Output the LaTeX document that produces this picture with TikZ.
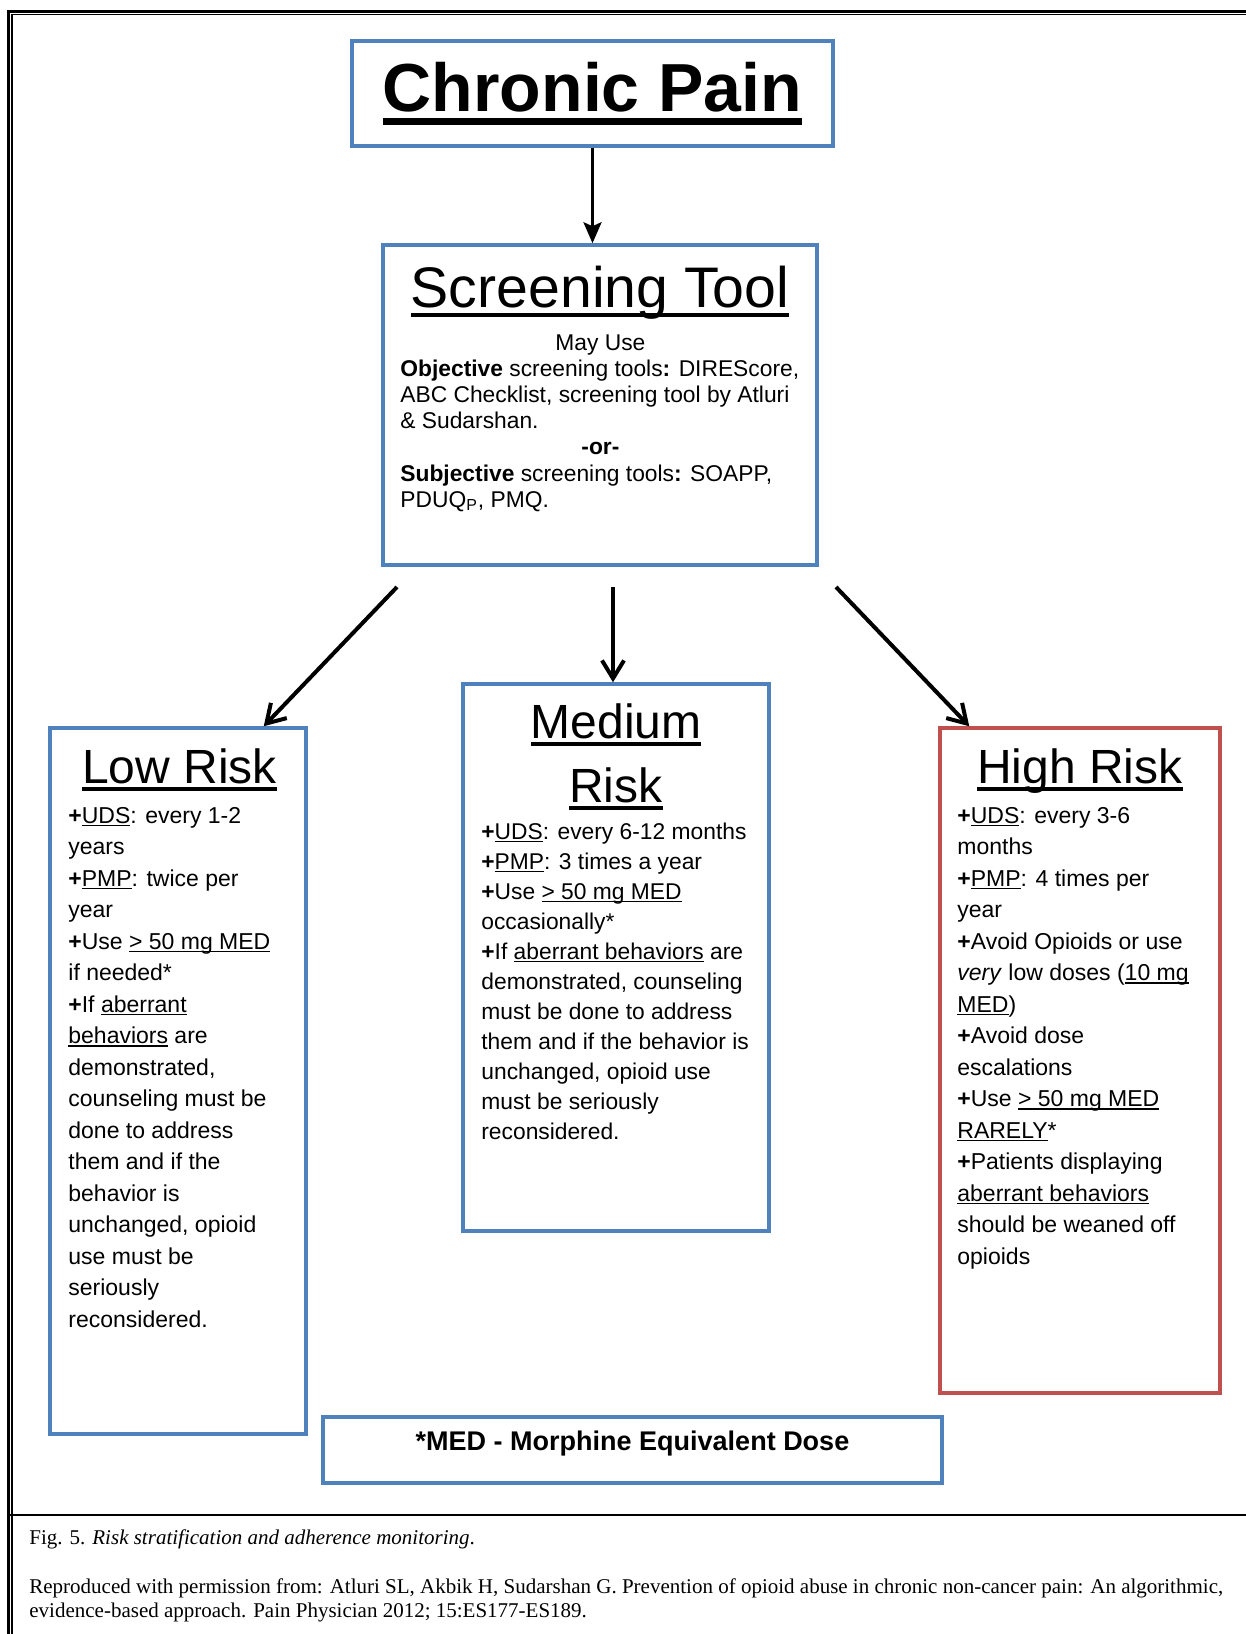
\documentclass[tikz,border=0pt]{standalone}
\usepackage{fontspec}
\setmainfont{Liberation Sans}
\newfontfamily\capfont{Liberation Serif}
\usetikzlibrary{arrows.meta,positioning}

\definecolor{boxblue}{RGB}{79,129,189}
\definecolor{boxred}{RGB}{192,80,77}

% underline: depth below baseline, rule thickness, text
\newcommand{\undl}[3]{\leavevmode\setbox0\hbox{#3}\rlap{\vrule height -#1 depth \dimexpr#1+#2\relax width \wd0}\box0\relax}
\newcommand{\txu}[1]{\undl{0.8pt}{0.9pt}{#1}}
\newcommand{\pls}{\textbf{+}}

\begin{document}
\begin{tikzpicture}[x=0.5pt, y=-0.5pt,
  bluebox/.style={draw=boxblue, line width=1.75pt, inner sep=0pt},
  redbox/.style={draw=boxred, line width=1.75pt, inner sep=0pt},
  risktitle/.style={inner sep=0pt, anchor=base, font=\fontsize{24}{32}\selectfont},
  bodytxt/.style={inner sep=0pt, anchor=base west, font=\fontsize{11.5}{15.75}\selectfont},
  captxt/.style={inner sep=0pt, anchor=base west, font=\capfont\fontsize{10.5}{12}\selectfont},
  thinarrow/.style={line width=1.5pt, -{Stealth[length=10.5pt,width=9pt,inset=2pt]}},
  thickarrow/.style={line width=2pt, -{Straight Barb[length=9pt,width=11pt]}}]

\useasboundingbox (0,0) rectangle (1246,1634);

% page frame
\draw[line width=1.5pt] (1246,11) -- (8.5,11) -- (8.5,1634);
\draw[line width=0.6pt] (1246,14.5) -- (12,14.5) -- (12,1634);
\draw[line width=1pt] (8.5,1514.5) -- (1246,1514.5);

% top
\node[bluebox, minimum width=240.5pt, minimum height=52.5pt,
  font=\bfseries\fontsize{34}{40}\selectfont] (chronic) at (592.5,93.5) {\undl{3.5pt}{3.5pt}{Chronic Pain}};

\node[bluebox, minimum width=217pt, minimum height=160pt] (scr) at (600,405) {};
\node[inner sep=0pt, anchor=base, font=\fontsize{28.6}{32}\selectfont] (scrtitle) at (600,307)
  {\undl{3pt}{2pt}{Screening Tool}};
\node[inner sep=0pt, anchor=base west, font=\fontsize{11.4}{13.1}\selectfont] (scrtxt) at (400,350)
  {\parbox[t]{200pt}{\raggedright
  \makebox[200pt]{May Use}\\
  \textbf{Objective} screening tools\textbf{:} DIREScore,\\
  ABC Checklist, screening tool by Atluri\\
  \& Sudarshan.\\
  \makebox[200pt]{\textbf{-or-}}\\
  \textbf{Subjective} screening tools\textbf{:} SOAPP,\\
  PDUQ\textsubscript{P}, PMQ.}};

% low risk
\node[bluebox, minimum width=128pt, minimum height=353pt] (low) at (178,1081) {};
\node[risktitle] (lowtitle) at (179.5,783) {\undl{2pt}{1.8pt}{Low Risk}};
\node[bodytxt] (lowtxt) at (68,823) {\parbox[t]{150pt}{\raggedright
  \pls\txu{UDS}: every 1-2\\
  years\\
  \pls\txu{PMP}: twice per\\
  year\\
  \pls Use \txu{> 50 mg MED}\\
  if needed*\\
  \pls If \txu{aberrant}\\
  \txu{behaviors} are\\
  demonstrated,\\
  counseling must be\\
  done to address\\
  them and if the\\
  behavior is\\
  unchanged, opioid\\
  use must be\\
  seriously\\
  reconsidered.}};

% medium risk
\node[bluebox, minimum width=153pt, minimum height=273.5pt] (med) at (616,957.5) {};
\node[risktitle] (medtitle) at (616,738) {\parbox[t]{150pt}{\centering
  \undl{2pt}{1.8pt}{Medium}\\ \undl{2pt}{1.8pt}{Risk}}};
\node[bodytxt, font=\fontsize{11.4}{15}\selectfont] (medtxt) at (481,839) {\parbox[t]{150pt}{\raggedright
  \pls\txu{UDS}: every 6-12 months\\
  \pls\txu{PMP}: 3 times a year\\
  \pls Use \txu{> 50 mg MED}\\
  occasionally*\\
  \pls If \txu{aberrant behaviors} are\\
  demonstrated, counseling\\
  must be done to address\\
  them and if the behavior is\\
  unchanged, opioid use\\
  must be seriously\\
  reconsidered.}};

% high risk
\node[redbox, minimum width=140pt, minimum height=332.5pt] (high) at (1080,1060.5) {};
\node[risktitle] (hightitle) at (1080,783) {\undl{2pt}{1.8pt}{High Risk}};
\node[bodytxt] (hightxt) at (957,823) {\parbox[t]{150pt}{\raggedright
  \pls\txu{UDS}: every 3-6\\
  months\\
  \pls\txu{PMP}: 4 times per\\
  year\\
  \pls Avoid Opioids or use\\
  \textit{very} low doses (\txu{10 mg}\\
  \txu{MED})\\
  \pls Avoid dose\\
  escalations\\
  \pls Use \txu{> 50 mg MED}\\
  \txu{RARELY}*\\
  \pls Patients displaying\\
  \txu{aberrant behaviors}\\
  should be weaned off\\
  opioids}};

% key
\node[bluebox, minimum width=309.5pt, minimum height=33pt, text height=9.5pt, text depth=9.5pt,
  font=\bfseries\fontsize{13.5}{16}\selectfont] (medkey) at (632.5,1450) {*MED - Morphine Equivalent Dose};

% arrows
\draw[thinarrow] (chronic.south) -- (chronic.south |- scr.north);
\coordinate (lowtail) at (397,587);
\coordinate (midtail) at (613,587);
\coordinate (hightail) at (836,587);
\draw[thickarrow] (lowtail) -- ([xshift=-22pt]low.north east);
\draw[thickarrow] (midtail) -- (midtail |- med.north);
\draw[thickarrow] (hightail) -- ([xshift=15.5pt]high.north west);

% caption
\node[captxt] (figcap) at (29,1544) {Fig. 5. \textit{Risk stratification and adherence monitoring}.};
\node[captxt] (source) at (29,1593) {\parbox[t]{620pt}{\raggedright
  Reproduced with permission from: Atluri SL, Akbik H, Sudarshan G. Prevention of opioid abuse in chronic non-cancer pain: An algorithmic,\\
  evidence-based approach. Pain Physician 2012; 15:ES177-ES189.}};
\end{tikzpicture}
\end{document}
